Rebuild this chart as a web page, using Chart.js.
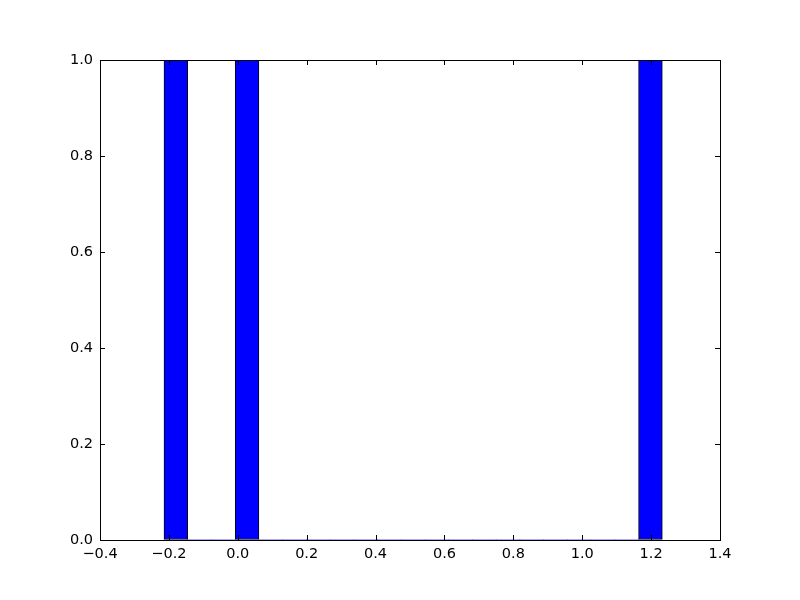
<!DOCTYPE html>
<html>
<head>
<meta charset="utf-8">
<script src="https://cdn.jsdelivr.net/npm/chart.js@4"></script>
<style>
html,body{margin:0;padding:0;background:#fff;}
#wrap{width:800px;height:600px;}
</style>
</head>
<body>
<div id="wrap"><canvas id="c" width="800" height="600"></canvas></div>
<script>
// Histogram: 21 bins between the data min and max
const binStart = -0.2142;
const binEnd = 1.2325;
const binCounts = [1,0,0,1,0,0,0,0,0,0,0,0,0,0,0,0,0,0,0,0,1];
const xTicks = [-0.4,-0.2,0.0,0.2,0.4,0.6,0.8,1.0,1.2,1.4];
const yTicks = [0.0,0.2,0.4,0.6,0.8,1.0];

const binWidth = (binEnd - binStart) / binCounts.length;
const points = binCounts.map((c, i) => ({x: binStart + binWidth * (i + 0.5), y: c}));

const fmt = v => {
  const s = Number(v).toFixed(1);
  return s.replace('-', '\u2212');
};

const inwardTicks = {
  id: 'inwardTicks',
  afterDatasetsDraw(chart) {
    const {ctx, chartArea: a, scales: {x, y}} = chart;
    const L = 5;
    ctx.save();
    ctx.strokeStyle = '#000';
    ctx.lineWidth = 1;
    ctx.beginPath();
    xTicks.forEach(v => {
      const px = Math.round(x.getPixelForValue(v)) + 0.5;
      ctx.moveTo(px, a.bottom); ctx.lineTo(px, a.bottom - L);
      ctx.moveTo(px, a.top); ctx.lineTo(px, a.top + L);
    });
    yTicks.forEach(v => {
      const py = Math.round(y.getPixelForValue(v)) + 0.5;
      ctx.moveTo(a.left, py); ctx.lineTo(a.left + L, py);
      ctx.moveTo(a.right, py); ctx.lineTo(a.right - L, py);
    });
    ctx.stroke();
    ctx.strokeRect(Math.round(a.left) + 0.5, Math.round(a.top) + 0.5,
                   Math.round(a.right - a.left), Math.round(a.bottom - a.top));
    ctx.restore();
  }
};

new Chart(document.getElementById('c'), {
  type: 'bar',
  data: {
    datasets: [{
      data: points,
      backgroundColor: '#0000ff',
      borderColor: '#000',
      borderWidth: ctx => (ctx.raw && ctx.raw.y > 0 ? 1 : 0),
      borderSkipped: false,
      categoryPercentage: 1.0,
      barPercentage: 1.0
    }]
  },
  options: {
    responsive: false,
    animation: false,
    events: [],
    layout: {padding: {top: 60, right: 80, left: 0, bottom: 0}},
    plugins: {legend: {display: false}, tooltip: {enabled: false}},
    scales: {
      x: {
        type: 'linear',
        min: -0.4, max: 1.4,
        offset: false,
        grid: {display: true, drawOnChartArea: false, drawTicks: false},
        border: {display: false},
        afterBuildTicks: s => { s.ticks = xTicks.map(v => ({value: v})); },
        afterFit: s => { s.height = 60; },
        ticks: {
          padding: 6,
          color: '#000',
          font: {family: 'DejaVu Sans', size: 14.5},
          maxRotation: 0,
          autoSkip: false,
          callback: v => fmt(v)
        }
      },
      y: {
        min: 0, max: 1,
        grid: {display: true, drawOnChartArea: false, drawTicks: false},
        border: {display: false},
        afterBuildTicks: s => { s.ticks = yTicks.map(v => ({value: v})); },
        afterFit: s => { s.width = 100; },
        ticks: {
          padding: 7,
          color: '#000',
          font: {family: 'DejaVu Sans', size: 14.5},
          callback: v => fmt(v)
        }
      }
    }
  },
  plugins: [inwardTicks]
});
</script>
</body>
</html>
